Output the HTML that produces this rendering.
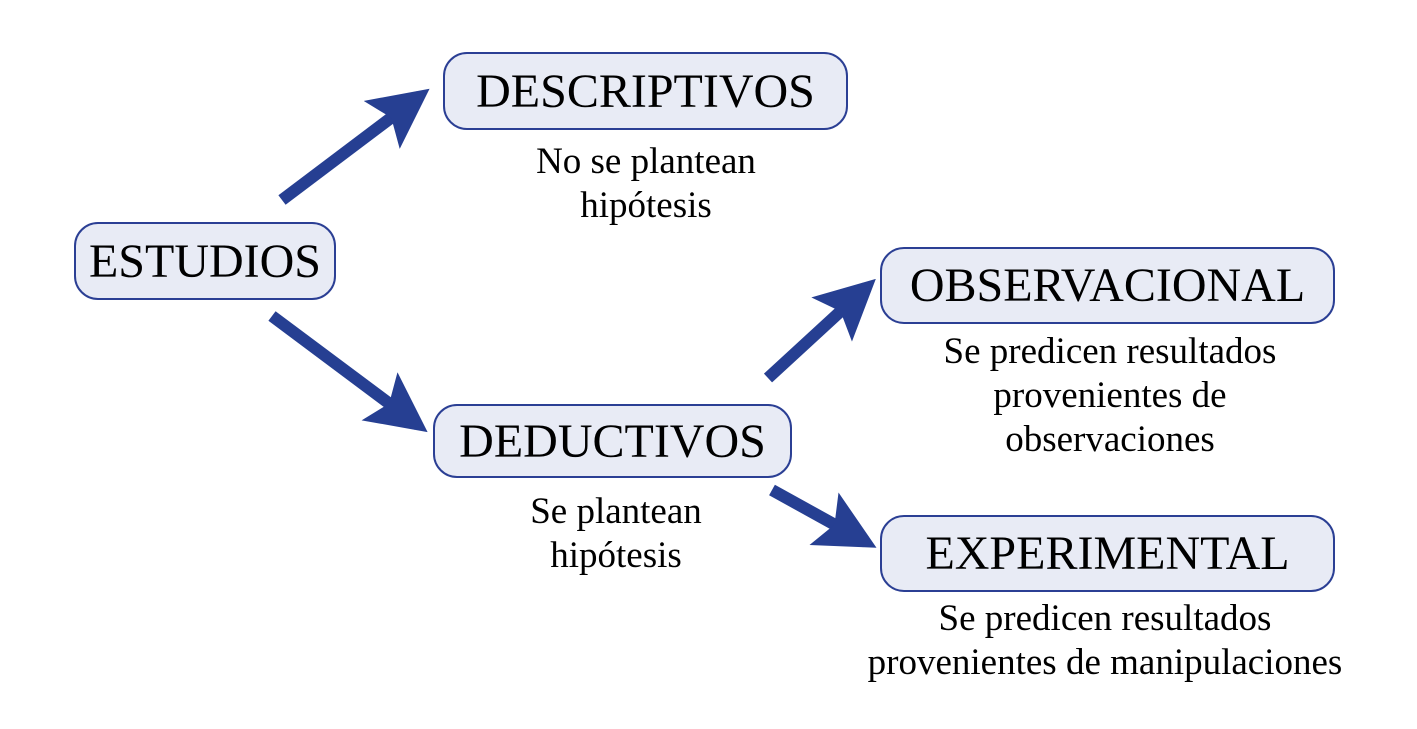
<!DOCTYPE html>
<html><head><style>
body{margin:0;width:1417px;height:729px;background:#fff;position:relative;overflow:hidden;font-family:"Liberation Serif",serif;}
.b{position:absolute;box-sizing:border-box;border:2px solid #2b3f94;border-radius:24px;background:#e8ebf5;display:flex;align-items:center;justify-content:center;font-size:48px;color:#000;}
.t{position:absolute;font-size:37px;text-align:center;line-height:44px;color:#000;white-space:nowrap;}
</style></head><body>
<svg width="1417" height="729" style="position:absolute;left:0;top:0">
<defs><marker id="a" markerWidth="5" markerHeight="5" refX="4" refY="2.5" orient="auto" markerUnits="strokeWidth"><path d="M0,0 L5,2.5 L0,5 L1,2.5 Z" fill="#263f92"/></marker></defs>
<g stroke="#263f92" stroke-width="12" marker-end="url(#a)">
<line x1="282" y1="200" x2="420" y2="96"/>
<line x1="272" y1="316" x2="418" y2="425"/>
<line x1="768" y1="378" x2="867" y2="287"/>
<line x1="772" y1="490" x2="866" y2="542"/>
</g></svg>
<div class="b" style="left:74px;top:222px;width:262px;height:78px">ESTUDIOS</div>
<div class="b" style="left:443px;top:52px;width:405px;height:78px">DESCRIPTIVOS</div>
<div class="b" style="left:880px;top:247px;width:455px;height:77px">OBSERVACIONAL</div>
<div class="b" style="left:433px;top:404px;width:359px;height:74px">DEDUCTIVOS</div>
<div class="b" style="left:880px;top:515px;width:455px;height:77px">EXPERIMENTAL</div>
<div class="t" style="left:496px;top:140px;width:300px">No se plantean<br>hipótesis</div>
<div class="t" style="left:476px;top:490px;width:280px">Se plantean<br>hipótesis</div>
<div class="t" style="left:900px;top:330px;width:420px">Se predicen resultados<br>provenientes de<br>observaciones</div>
<div class="t" style="left:840px;top:597px;width:530px">Se predicen resultados<br>provenientes de manipulaciones</div>
</body></html>
